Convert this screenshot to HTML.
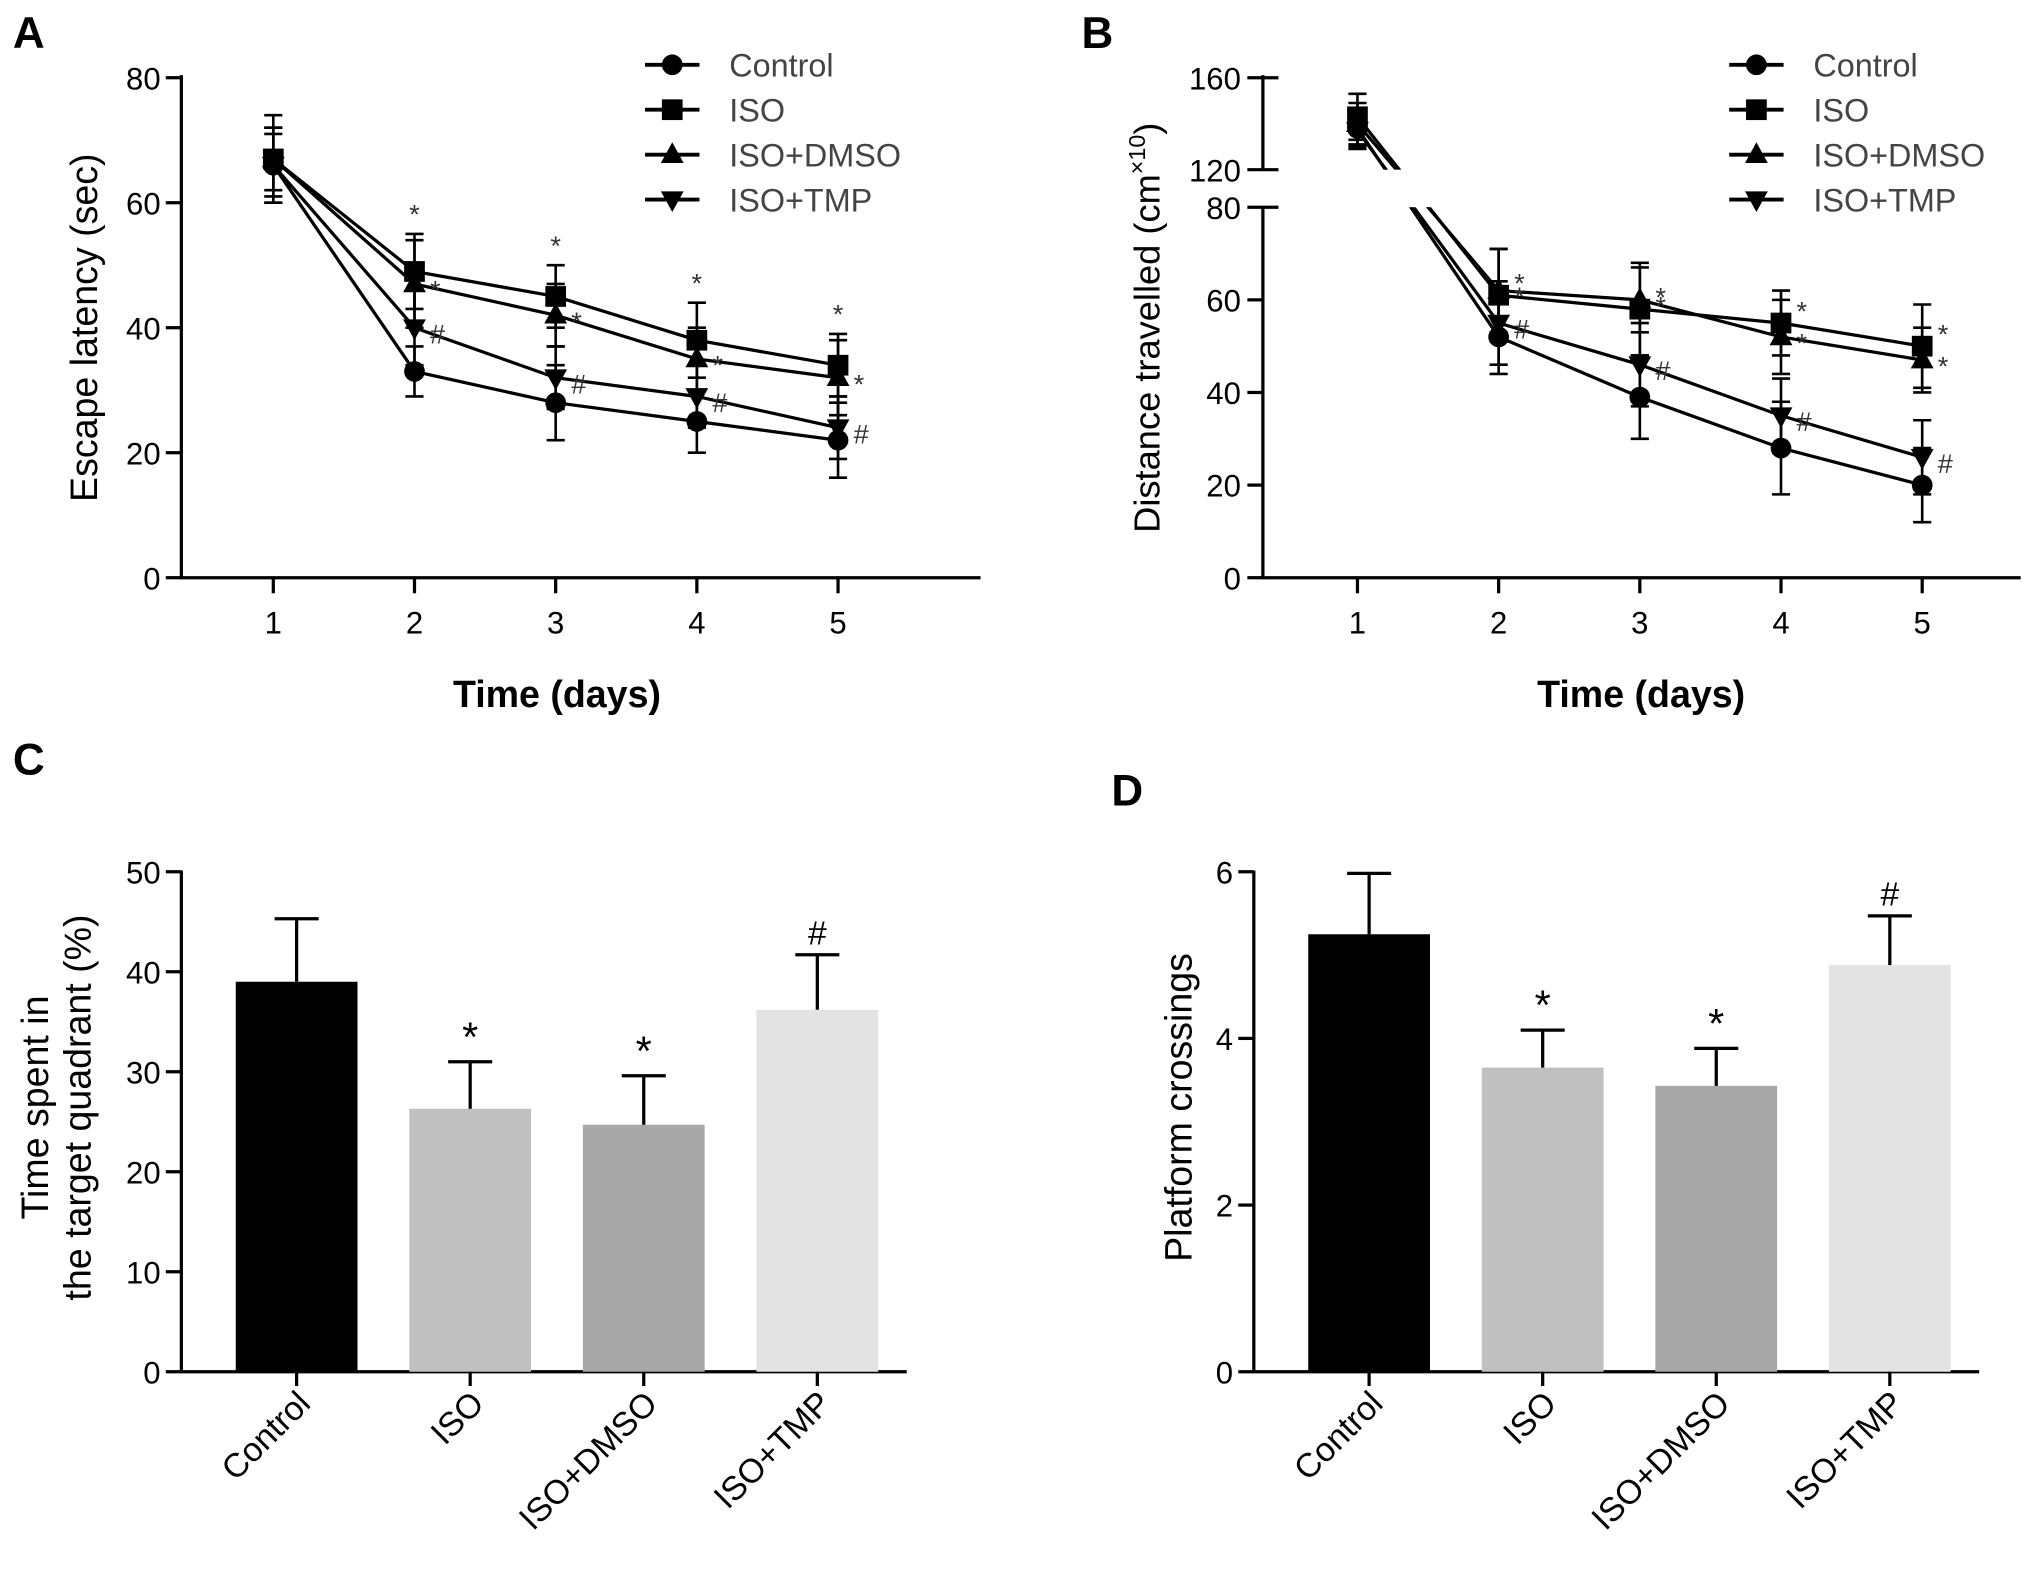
<!DOCTYPE html>
<html><head><meta charset="utf-8"><style>
html,body{margin:0;padding:0;background:#fff}
svg{display:block;font-family:"Liberation Sans",Arial,sans-serif}
</style></head><body>
<svg id="fig" width="2031" height="1572" viewBox="0 0 1568 1213.6" preserveAspectRatio="none" xmlns="http://www.w3.org/2000/svg">
<defs>
<clipPath id="clipB"><rect x="960" y="0" width="620" height="131"/><rect x="960" y="160" width="620" height="400"/></clipPath>
</defs>
<g id="root"></g>
</svg>
<script>
// ---------- data ----------
const days = [1,2,3,4,5];
const groups = ["Control","ISO","ISO+DMSO","ISO+TMP"];
const markers = ["circle","square","triangle","down"];
const aMeans = [[66,33,28,25,22],[67,49,45,38,34],[67,47,42,35,32],[66,40,32,29,24]];
const aErr = [[5,4,6,5,6],[7,6,5,6,5],[5,7,5,5,6],[6,6,5,5,5]];
const aSig = [["","","","",""],["","*","*","*","*"],["","*","*","*","*"],["","#","#","#","#"]];
const aYTicks = [0,20,40,60,80];
const bMeans = [[138,52,39,28,20],[143,61,58,55,50],[140,62,60,52,47],[137,55,46,35,26]];
const bErr = [[8,8,9,10,8],[10,10,10,7,9],[9,9,7,8,7],[8,9,9,8,8]];
const bSig = aSig;
const bYTicksLow = [0,20,40,60,80];
const bYTicksHigh = [120,160];
const cValues = [39,26.3,24.7,36.2];
const cErrors = [6.3,4.7,4.9,5.5];
const cSig = ["","*","*","#"];
const cYTicks = [0,10,20,30,40,50];
const dValues = [5.25,3.65,3.43,4.88];
const dErrors = [0.73,0.45,0.45,0.59];
const dSig = ["","*","*","#"];
const dYTicks = [0,2,4,6];
const barColors = ["#000000","#c0c0c0","#a8a8a8","#e3e3e3"];

const NS="http://www.w3.org/2000/svg";
const root=document.getElementById('root');
function el(tag,attrs,parent,text){const e=document.createElementNS(NS,tag);for(const k in attrs)e.setAttribute(k,attrs[k]);if(text!==undefined)e.textContent=text;(parent||root).appendChild(e);return e;}
function line(x1,y1,x2,y2,p,w){return el('line',{x1,y1,x2,y2,stroke:'#000','stroke-width':w||2.5},p);}
function marker(type,x,y,p,s){s=s||8;let e;
 if(type==='circle')e=el('circle',{cx:x,cy:y,r:s},p);
 else if(type==='square')e=el('rect',{x:x-s,y:y-s,width:2*s,height:2*s},p);
 else if(type==='triangle')e=el('polygon',{points:`${x},${y-s*1.2} ${x-s*1.1},${y+s*0.8} ${x+s*1.1},${y+s*0.8}`},p);
 else e=el('polygon',{points:`${x},${y+s*1.2} ${x-s*1.1},${y-s*0.8} ${x+s*1.1},${y-s*0.8}`},p);
 e.setAttribute('fill','#000');return e;}
function panelLabel(t,x,y){const e=el('text',{x,y,'font-size':34,'font-weight':'bold'},root,t);
 
 }
function legend(x0,g){groups.forEach((n,i)=>{const y=50+i*34.7;const gg=el('g',{},g);
 
 
 line(x0,y,x0+42,y,gg,3);marker(markers[i],x0+21,y,gg,8);
 el('text',{x:x0+65,y:y+9,'font-size':25,fill:'#444'},gg,n);});}
const TF=24;

// ---------- Panel A ----------
(function(){
 const g=el('g',{});
 const X=d=>211+(d-1)*109, Y=v=>446-v*(386/80);
 line(140,58,140,447,g);line(139,446,757,446,g);
 aYTicks.forEach(t=>{line(128,Y(t),140,Y(t),g);el('text',{x:124,y:Y(t)+9,'font-size':TF,'text-anchor':'end'},g,t);});
 days.forEach(d=>{line(X(d),446,X(d),458,g);el('text',{x:X(d),y:489,'font-size':TF,'text-anchor':'middle'},g,d);});
 el('text',{x:430,y:546,'font-size':29,'font-weight':'bold','text-anchor':'middle'},g,'Time (days)');
 el('text',{x:0,y:0,'font-size':29,'text-anchor':'middle',transform:'translate(75,253) rotate(-90)'},g,'Escape latency (sec)');
 aMeans.forEach((s,i)=>{const sg=el('g',{},g);
  
  
  el('polyline',{points:s.map((v,j)=>X(days[j])+','+Y(v)).join(' '),fill:'none',stroke:'#000','stroke-width':2.5},sg);
  s.forEach((v,j)=>{const x=X(days[j]);line(x,Y(v+aErr[i][j]),x,Y(v-aErr[i][j]),sg,2);
   line(x-7,Y(v+aErr[i][j]),x+7,Y(v+aErr[i][j]),sg,2);line(x-7,Y(v-aErr[i][j]),x+7,Y(v-aErr[i][j]),sg,2);
   marker(markers[i],x,Y(v),sg,8);
   if(aSig[i][j]){const ox=i===1?0:12;const oy=i===1?Y(v+aErr[i][j])-8:Y(v)+12;
    el('text',{x:x+ox,y:oy,'font-size':21,fill:'#333','text-anchor':i===1?'middle':'start'},sg,aSig[i][j]);}});});
 legend(498,g);
})();

// ---------- Panel B ----------
(function(){
 const g=el('g',{});
 const X=d=>1048+(d-1)*109;
 const Y=v=>v>=100?60+(160-v)*(71/40):446-v*(286/80);
 line(975,58,975,131,g);line(975,160,975,447,g);line(974,446,1560,446,g);
 bYTicksHigh.forEach(t=>{line(963,Y(t),987,Y(t),g);el('text',{x:958,y:Y(t)+9,'font-size':TF,'text-anchor':'end'},g,t);});
 bYTicksLow.forEach(t=>{line(963,Y(t),t===80?987:975,Y(t),g);el('text',{x:958,y:Y(t)+9,'font-size':TF,'text-anchor':'end'},g,t);});
 days.forEach(d=>{line(X(d),446,X(d),458,g);el('text',{x:X(d),y:489,'font-size':TF,'text-anchor':'middle'},g,d);});
 el('text',{x:1267,y:546,'font-size':29,'font-weight':'bold','text-anchor':'middle'},g,'Time (days)');
 const yt=el('text',{x:0,y:0,'font-size':28,'text-anchor':'middle',transform:'translate(895,253) rotate(-90)'},g,'Distance travelled (cm');
 el('tspan',{dy:-11,'font-size':18},yt,'×10');el('tspan',{dy:11},yt,')');
 bMeans.forEach((s,i)=>{const sg=el('g',{},g);
  
  
  el('polyline',{points:s.map((v,j)=>X(days[j])+','+Y(v)).join(' '),fill:'none',stroke:'#000','stroke-width':2.5,'clip-path':'url(#clipB)'},sg);
  s.forEach((v,j)=>{const x=X(days[j]);const e=bErr[i][j];line(x,Y(v+e),x,Y(v-e),sg,2);
   line(x-7,Y(v+e),x+7,Y(v+e),sg,2);line(x-7,Y(v-e),x+7,Y(v-e),sg,2);
   marker(markers[i],x,Y(v),sg,8);
   if(bSig[i][j]){const oy=i===1?Y(v)-2:Y(v)+12;
    el('text',{x:x+12,y:oy,'font-size':21,fill:'#333'},sg,bSig[i][j]);}});});
 legend(1335,g);
})();

// ---------- Bar panels ----------
function barPanel(name,ax,vals,errs,sig,ticks,ymax,titleLines,titleX,axisEnd){
 const g=el('g',{});
 const Y=v=>1059-v*(386/ymax);const X=i=>ax+89+i*134;
 line(ax,672,ax,1060,g);line(ax-1,1059,axisEnd,1059,g);
 ticks.forEach(t=>{line(ax-12,Y(t),ax,Y(t),g);el('text',{x:ax-16,y:Y(t)+9,'font-size':TF,'text-anchor':'end'},g,t);});
 vals.forEach((v,i)=>{const x=X(i);
  const b=el('rect',{x:x-47,y:Y(v),width:94,height:1059-Y(v),fill:barColors[i]},g);
  
  
  const top=Y(v+errs[i]);line(x,Y(v),x,top,g,2.5);line(x-17,top,x+17,top,g,2.5);
  if(sig[i])el('text',{x:x,y:top-8,'font-size':i===3?26:32,'text-anchor':'middle'},g,sig[i]);
  line(x,1059,x,1070,g);
  el('text',{x:0,y:0,'font-size':26,'text-anchor':'end',transform:`translate(${x+12},${1085}) rotate(-45)`},g,groups[i]);});
 titleLines.forEach((t,k)=>el('text',{x:0,y:0,'font-size':29,'text-anchor':'middle',transform:`translate(${titleX+k*33},855) rotate(-90)`},g,t));
}
barPanel('panel-c-bar-chart',140,cValues,cErrors,cSig,cYTicks,50,['Time spent in','the target quadrant (%)'],37,700);
barPanel('panel-d-bar-chart',968,dValues,dErrors,dSig,dYTicks,6,['Platform crossings'],920,1528);

panelLabel('A',10,37);panelLabel('B',835,37);panelLabel('C',10,598);panelLabel('D',858,622);
</script>
</body></html>
